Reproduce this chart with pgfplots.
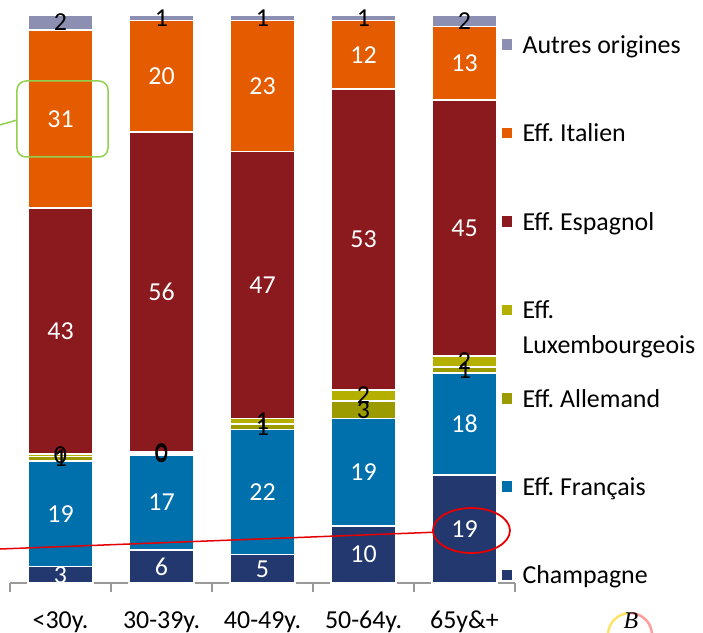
\documentclass[border=0pt]{standalone}
\usepackage{fontspec}
\setmainfont{Carlito}
\newfontfamily\logofont{Liberation Serif}
\usepackage{pgfplots}
\usepackage{pgfplotstable}
\pgfplotsset{compat=1.18}
\definecolor{cChamp}{RGB}{34,56,110}
\definecolor{cFr}{RGB}{0,112,172}
\definecolor{cAll}{RGB}{155,155,0}
\definecolor{cLux}{RGB}{181,176,0}
\definecolor{cEsp}{RGB}{139,26,30}
\definecolor{cIta}{RGB}{228,91,0}
\definecolor{cAut}{RGB}{140,143,177}
\definecolor{cGreen}{RGB}{146,208,80}
\definecolor{cRed}{RGB}{230,0,0}

\pgfplotstableread{
x y label
0 2.9 3
1 5.8 6
2 5 5
3 10 10
4 19 19
}\champ
\pgfplotstableread{
x y label
0 18.6 19
1 16.7 17
2 22 22
3 19 19
4 18 18
}\franc
\pgfplotstableread{
x y label
0 0.8 1
1 0.3 0
2 1 1
3 3 3
4 1 1
}\allem
\pgfplotstableread{
x y label
0 0.4 0
1 0.3 0
2 1 1
3 2 2
4 2 2
}\luxem
\pgfplotstableread{
x y label
0 43.3 43
1 56.3 56
2 47 47
3 53 53
4 45 45
}\espag
\pgfplotstableread{
x y label
0 31.4 31
1 19.6 20
2 23 23
3 12 12
4 13 13
}\ital
\pgfplotstableread{
x y label
0 2.6 2
1 1.0 1
2 1 1
3 1 1
4 2 2
}\autres

\newcommand{\bigf}{\fontsize{26}{30}\selectfont}
\newcommand{\st}{\rule[-6bp]{0pt}{25bp}}

\begin{document}
\begin{tikzpicture}
\begin{axis}[
  at={(0,0)}, anchor=south west,
  scale only axis, width=505bp, height=568bp,
  xmin=-0.5, xmax=4.5, ymin=0, ymax=100,
  clip=false,
  ybar stacked, bar width=65bp,
  axis y line=none,
  axis x line*=bottom,
  x axis line style={draw=black!40, line width=1.2bp, -},
  xtick={0,1,2,3,4},
  xticklabels={{<30y.},{30-39y.},{40-49y.},{50-64y.},{65y\&+}},
  major tick length=0pt,
  minor xtick={-0.5,0.5,1.5,2.5,3.5,4.5},
  minor tick length=9bp,
  xtick align=outside,
  minor x tick style={draw=black!40, line width=1.2bp},
  xticklabel style={anchor=base, yshift=-45bp, font=\bigf, inner sep=0pt},
  nodes near coords,
  point meta=explicit symbolic,
  every node near coord/.append style={anchor=center, font=\bigf, inner sep=0pt},
  legend style={draw=none, fill=none, inner sep=0pt, outer sep=0pt,
     at={(0.9703,0.9665)}, anchor=north west, row sep=68bp, column sep=9bp,
     nodes={inner sep=0pt}, font=\bigf},
  legend cell align=left,
  reverse legend,
  legend image code/.code={\fill[#1] (0bp,-6bp) rectangle (12bp,6bp);},
]
\addplot[fill=cChamp, draw=white, line width=1.5bp, every node near coord/.append style={text=white}] table[x=x,y=y,meta=label] {\champ};
\addlegendentry{\st Champagne}
\addplot[fill=cFr, draw=white, line width=1.5bp, every node near coord/.append style={text=white}] table[x=x,y=y,meta=label] {\franc};
\addlegendentry{\st Eff.\ Français}
\addplot[fill=cAll, draw=white, line width=1.5bp, every node near coord/.append style={text=black}] table[x=x,y=y,meta=label] {\allem};
\addlegendentry{\st Eff.\ Allemand}
\addplot[fill=cLux, draw=white, line width=1.5bp, every node near coord/.append style={text=black}] table[x=x,y=y,meta=label] {\luxem};
\addlegendentry{\st\makebox[0pt][l]{\raisebox{-35bp}[0pt][0pt]{Luxembourgeois}}Eff.}
\addplot[fill=cEsp, draw=white, line width=1.5bp, every node near coord/.append style={text=white}] table[x=x,y=y,meta=label] {\espag};
\addlegendentry{\st Eff.\ Espagnol}
\addplot[fill=cIta, draw=white, line width=1.5bp, every node near coord/.append style={text=white}] table[x=x,y=y,meta=label] {\ital};
\addlegendentry{\st Eff.\ Italien}
\addplot[fill=cAut, draw=white, line width=1.5bp, every node near coord/.append style={text=black}] table[x=x,y=y,meta=label] {\autres};
\addlegendentry{\st Autres origines}

\coordinate (gA) at (axis cs:-0.4307,75.0);
\coordinate (gB) at (axis cs:0.4703,88.38);
\coordinate (gL0) at (axis cs:-0.649,80.4);
\coordinate (gL1) at (axis cs:-0.4307,81.51);
\coordinate (rC) at (axis cs:4.069,9.24);
\coordinate (rL0) at (axis cs:-0.649,5.95);
\coordinate (rL1) at (axis cs:3.688,8.93);
\end{axis}
\draw[cGreen, line width=1.5bp, rounded corners=9bp] (gA) rectangle (gB);
\draw[cGreen, line width=1.5bp] (gL0) -- (gL1);
\draw[cRed, line width=1.8bp] (rC) ellipse [x radius=38.5bp, y radius=22.5bp];
\draw[cRed, line width=1.5bp] (rL0) -- (rL1);
% logo (partially cropped, as in the reference)
\draw[yellow!70!orange, line width=2.5bp, opacity=0.6] (620bp,-52bp) ++(90:22bp) arc[start angle=90, end angle=200, radius=22bp];
\draw[red!70!pink, line width=2.5bp, opacity=0.5] (620bp,-52bp) ++(90:22bp) arc[start angle=90, end angle=-20, radius=22bp];
\node[anchor=north, inner sep=0pt] at (621bp,-30bp) {\logofont\itshape\fontsize{24}{24}\selectfont B};
\pgfresetboundingbox
\path[use as bounding box] (-10bp,-50bp) rectangle (693bp,583bp);
\end{tikzpicture}
\end{document}
